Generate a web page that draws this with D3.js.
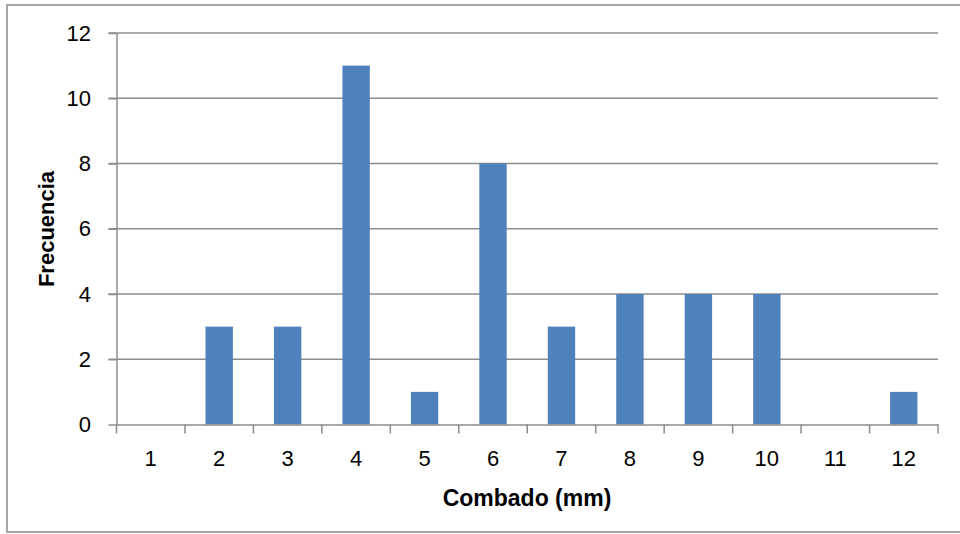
<!DOCTYPE html>
<html><head><meta charset="utf-8">
<script src="https://cdn.jsdelivr.net/npm/d3@7"></script>
<style>body{margin:0;background:#fff}svg{display:block}</style>
</head><body>
<svg id="c" width="960" height="534"></svg>
<script>
const categories = ["1","2","3","4","5","6","7","8","9","10","11","12"];
const values = [0,3,3,11,1,8,3,4,4,4,0,1];
const yTicks = [0,2,4,6,8,10,12];
const xTitle = "Combado (mm)";
const yTitle = "Frecuencia";

const svg = d3.select("#c");
const font = "'Liberation Sans', Arial, sans-serif";
const L = 116.5, R = 938, T = 33, B = 424.5;

svg.append("rect").attr("x",7).attr("y",5).attr("width",970).attr("height",527)
  .attr("fill","#fff").attr("stroke","#a6a6a6").attr("stroke-width",2);

const x = d3.scaleBand().domain(categories).range([L,R]).paddingInner(0.6).paddingOuter(0.3);
const xb = d3.scaleBand().domain(categories).range([L,R]);
const y = d3.scaleLinear().domain([0,12]).range([B,T]);

// gridlines
svg.append("g").selectAll("line").data(yTicks.filter(d=>d>0)).join("line")
  .attr("x1",L-8).attr("x2",R).attr("y1",d=>y(d)).attr("y2",d=>y(d))
  .attr("stroke","#8c8c8c").attr("stroke-width",1.5);

// bars
svg.append("g").selectAll("rect").data(values).join("rect")
  .attr("x",(d,i)=>x(categories[i])).attr("width",x.bandwidth())
  .attr("y",d=>y(d)).attr("height",d=>B-y(d)).attr("fill","#4f81bd");

// y axis
const ya = svg.append("g").attr("transform",`translate(${L},0)`)
  .call(d3.axisLeft(y).tickValues(yTicks).tickSize(8).tickSizeOuter(0).tickPadding(17.5));
ya.attr("font-size",null).attr("font-family",null);
ya.select(".domain").attr("stroke","#8c8c8c").attr("stroke-width",1.5);
ya.selectAll(".tick line").attr("stroke","#8c8c8c").attr("stroke-width",1.5);
ya.selectAll("text").style("font-family",font).style("font-size","22px").attr("fill","#000");

// x axis
const xa = svg.append("g").attr("transform",`translate(0,${B})`)
  .call(d3.axisBottom(xb).tickSize(0).tickPadding(26));
xa.attr("font-size",null).attr("font-family",null);
xa.select(".domain").attr("stroke","#8c8c8c").attr("stroke-width",1.5);
xa.selectAll("text").style("font-family",font).style("font-size","22px").attr("fill","#000");
// boundary ticks
const bounds = categories.map(c=>xb(c)).concat([R]);
svg.append("g").selectAll("line").data(bounds).join("line")
  .attr("x1",d=>d).attr("x2",d=>d).attr("y1",B).attr("y2",B+9)
  .attr("stroke","#8c8c8c").attr("stroke-width",1.5);

svg.append("text").attr("x",527).attr("y",506).attr("text-anchor","middle")
  .style("font-family",font).style("font-size","23px").attr("font-weight","bold").text(xTitle);
svg.append("text").attr("transform","translate(54,229) rotate(-90)").attr("text-anchor","middle")
  .style("font-family",font).style("font-size","22px").attr("font-weight","bold").text(yTitle);
</script>
</body></html>
